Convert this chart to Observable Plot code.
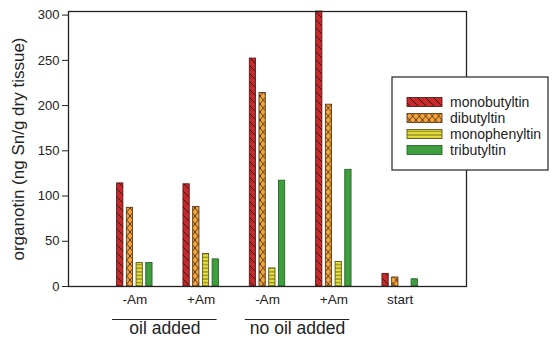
<!DOCTYPE html>
<html>
<head>
<meta charset="utf-8">
<script src="https://cdn.jsdelivr.net/npm/d3@7"></script>
<script src="https://cdn.jsdelivr.net/npm/@observablehq/plot@0.6"></script>
<style>
  body { margin: 0; background: #fff; }
  #chart { width: 555px; height: 340px; }
</style>
</head>
<body>
<div id="chart"></div>
<script>
// ---- data ----
const groups = ["-Am", "+Am", "-Am", "+Am", "start"];
const seriesNames = ["monobutyltin", "dibutyltin", "monophenyltin", "tributyltin"];
const monobutyltin = [114, 113, 252, 304, 14];
const dibutyltin = [87, 88, 214, 201, 10];
const monophenyltin = [26, 36, 20, 27, 0];
const tributyltin = [26, 30, 117, 129, 8];
const yTicks = [0, 50, 100, 150, 200, 250, 300];
const treatmentLabels = ["oil added", "no oil added"];
const treatmentFirst = [0, 2];
const treatmentLast = [1, 3];
const yLabel = "organotin (ng Sn/g dry tissue)";

// ---- styles ----
const fills = ["url(#p0)", "url(#p1)", "url(#p2)", "url(#p3)"];
const strokes = ["#4a1212", "#4a2a0a", "#4a4a10", "#1d5a1d"];
const step = 0.1465, barW = 0.095;

const allSeries = [monobutyltin, dibutyltin, monophenyltin, tributyltin];
const rows = [];
allSeries.forEach((vals, s) => vals.forEach((v, g) => rows.push({s, g, value: v})));

const treatments = treatmentLabels.map((t, i) => ({
  label: t,
  x1: treatmentFirst[i] + 1 - 0.335,
  x2: treatmentLast[i] + 1 + 0.24
}));

const barMarks = seriesNames.map((name, s) =>
  Plot.rectY(rows.filter(d => d.s === s && d.value > 0), {
    x1: d => d.g + 1 + (s - 1.5) * step - barW / 2,
    x2: d => d.g + 1 + (s - 1.5) * step + barW / 2,
    y: "value",
    fill: fills[s],
    stroke: strokes[s],
    strokeWidth: 0.8
  })
);

const chart = Plot.plot({
  width: 555,
  height: 340,
  marginLeft: 68,
  marginRight: 89,
  marginTop: 11,
  marginBottom: 54,
  style: {fontFamily: "'Liberation Sans', Arial, sans-serif", fontSize: "13px", color: "#222", background: "#fff"},
  x: {domain: [0, 6], axis: null},
  y: {domain: [0, 304], ticks: yTicks, tickSize: 6, tickPadding: 3, label: null},
  marks: [
    ...barMarks,
    Plot.frame({stroke: "#222", strokeWidth: 1.3}),
    Plot.text(groups, {x: (d, i) => i + 1, text: d => d, frameAnchor: "bottom", dy: 17, fontSize: 13.5, fill: "#222"}),
    Plot.ruleY(treatments, {y: () => 0, x1: "x1", x2: "x2", dy: 33, stroke: "#222", strokeWidth: 1}),
    Plot.text(treatments, {x: d => (d.x1 + d.x2) / 2, text: "label", frameAnchor: "bottom", dy: 47, fontSize: 17.5, fill: "#222"}),
    Plot.text([yLabel], {text: d => d, frameAnchor: "left", textAnchor: "middle", rotate: -90, dx: -50, fontSize: 17, fill: "#222"})
  ]
});

document.getElementById("chart").appendChild(chart);

// ---- patterns ----
const svg = d3.select(chart);
const defs = svg.insert("defs", ":first-child");
const p0 = defs.append("pattern").attr("id", "p0").attr("patternUnits", "userSpaceOnUse").attr("width", 8).attr("height", 8);
p0.append("rect").attr("width", 8).attr("height", 8).attr("fill", "#c42a2a");
p0.append("path").attr("d", "M0,0L8,8M-1,7L1,9M7,-1L9,1").attr("stroke", "#3a0e0e").attr("stroke-width", 0.9);
const p1 = defs.append("pattern").attr("id", "p1").attr("patternUnits", "userSpaceOnUse").attr("width", 6.5).attr("height", 8);
p1.append("rect").attr("width", 6.5).attr("height", 8).attr("fill", "#f5a43c");
p1.append("path").attr("d", "M0,0L6.5,8M6.5,0L0,8").attr("stroke", "#2e1c08").attr("stroke-width", 0.8);
const p2 = defs.append("pattern").attr("id", "p2").attr("patternUnits", "userSpaceOnUse").attr("width", 4).attr("height", 3.6);
p2.append("rect").attr("width", 4).attr("height", 3.6).attr("fill", "#e8e03c");
p2.append("path").attr("d", "M0,1.8L4,1.8").attr("stroke", "#4a4a12").attr("stroke-width", 0.8);
const p3 = defs.append("pattern").attr("id", "p3").attr("patternUnits", "userSpaceOnUse").attr("width", 4).attr("height", 4);
p3.append("rect").attr("width", 4).attr("height", 4).attr("fill", "#3e9e3e");

// ---- legend ----
const lg = svg.append("g").attr("font-family", "'Liberation Sans', Arial, sans-serif").attr("text-anchor", "start");
lg.append("rect").attr("x", 392).attr("y", 77).attr("width", 156).attr("height", 93)
  .attr("fill", "#fff").attr("stroke", "#222").attr("stroke-width", 1.2);
seriesNames.forEach((name, i) => {
  const cy = 102 + i * 16;
  lg.append("rect").attr("x", 407).attr("y", cy - 4.5).attr("width", 35).attr("height", 9)
    .attr("fill", fills[i]).attr("stroke", strokes[i]).attr("stroke-width", 0.8);
  lg.append("text").attr("x", 450).attr("y", cy).attr("dy", "0.35em").attr("text-anchor", "start")
    .attr("font-size", 14).attr("fill", "#222").text(name);
});
</script>
</body>
</html>
